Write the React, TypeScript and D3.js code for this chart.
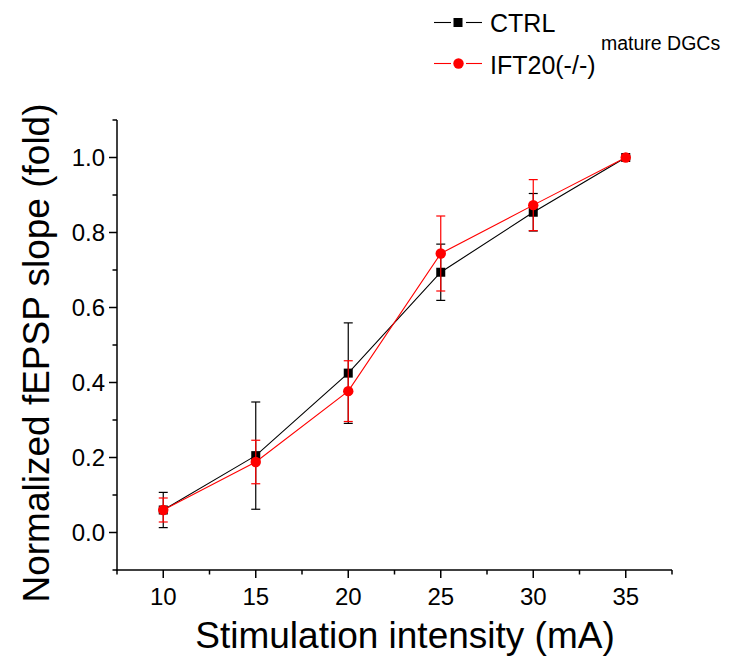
import React from "react";
import * as d3 from "d3";

const intensities = [10, 15, 20, 25, 30, 35];
const ctrlMean = [0.06, 0.205, 0.425, 0.694, 0.854, 1.0];
const ctrlErr = [0.047, 0.143, 0.134, 0.075, 0.05, 0];
const iftMean = [0.06, 0.188, 0.377, 0.744, 0.873, 1.0];
const iftErr = [0.032, 0.058, 0.081, 0.1, 0.068, 0];
const xTicks = [10, 15, 20, 25, 30, 35];
const xMinorTicks = [7.5, 12.5, 17.5, 22.5, 27.5, 32.5, 37.5];
const yTicks = [0.0, 0.2, 0.4, 0.6, 0.8, 1.0];
const yMinorTicks = [-0.1, 0.1, 0.3, 0.5, 0.7, 0.9, 1.1];

const FONT = "'Liberation Sans', Arial, sans-serif";

export default function App() {
  const x = d3.scaleLinear().domain([7.5, 37.5]).range([117, 672]);
  const y = d3.scaleLinear().domain([-0.1, 1.1]).range([570, 120]);

  const series = [
    { name: "CTRL", mean: ctrlMean, err: ctrlErr, color: "#000000", shape: "square" },
    { name: "IFT", mean: iftMean, err: iftErr, color: "#ff0000", shape: "circle" },
  ];

  const line = d3
    .line<[number, number]>()
    .x((d) => x(d[0]))
    .y((d) => y(d[1]));

  const marker = (shape: string, cx: number, cy: number, color: string, key: string) =>
    shape === "square" ? (
      <rect key={key} x={cx - 4.5} y={cy - 4.5} width={9} height={9} fill={color} />
    ) : (
      <circle key={key} cx={cx} cy={cy} r={5.2} fill={color} />
    );

  return (
    <svg
      width={730}
      height={660}
      style={{ position: "absolute", left: 0, top: 0, background: "#fff" }}
      fontFamily={FONT}
    >
      <rect x={0} y={0} width={730} height={660} fill="#fff" />
      {series.map((s) => (
        <g key={s.name}>
          <path
            d={line(intensities.map((v, i) => [v, s.mean[i]]) as [number, number][]) || ""}
            fill="none"
            stroke={s.color}
            strokeWidth={1.1}
          />
          {intensities.map((v, i) =>
            s.err[i] > 0 ? (
              <g key={i} stroke={s.color} strokeWidth={1.2}>
                <line x1={x(v)} x2={x(v)} y1={y(s.mean[i] + s.err[i])} y2={y(s.mean[i] - s.err[i])} />
                <line x1={x(v) - 4.5} x2={x(v) + 4.5} y1={y(s.mean[i] + s.err[i])} y2={y(s.mean[i] + s.err[i])} />
                <line x1={x(v) - 4.5} x2={x(v) + 4.5} y1={y(s.mean[i] - s.err[i])} y2={y(s.mean[i] - s.err[i])} />
              </g>
            ) : null
          )}
          {intensities.map((v, i) => marker(s.shape, x(v), y(s.mean[i]), s.color, "m" + i))}
        </g>
      ))}

      <g stroke="#000" strokeWidth={1.5}>
        <line x1={x(7.5)} x2={x(7.5)} y1={y(-0.1) + 0.75} y2={y(1.1)} />
        <line x1={x(7.5) - 0.75} x2={x(37.5)} y1={y(-0.1)} y2={y(-0.1)} />
        {yTicks.map((t) => (
          <line key={"yt" + t} x1={x(7.5) - 8} x2={x(7.5)} y1={y(t)} y2={y(t)} />
        ))}
        {yMinorTicks.map((t) => (
          <line key={"ym" + t} x1={x(7.5) - 4.5} x2={x(7.5)} y1={y(t)} y2={y(t)} />
        ))}
        {xTicks.map((t) => (
          <line key={"xt" + t} x1={x(t)} x2={x(t)} y1={y(-0.1)} y2={y(-0.1) + 8} />
        ))}
        {xMinorTicks.map((t) => (
          <line key={"xm" + t} x1={x(t)} x2={x(t)} y1={y(-0.1)} y2={y(-0.1) + 4.5} />
        ))}
      </g>
      <g fontSize={24} fill="#000">
        {yTicks.map((t) => (
          <text key={"yl" + t} x={x(7.5) - 12} y={y(t)} textAnchor="end" dominantBaseline="central">
            {d3.format(".1f")(t)}
          </text>
        ))}
        {xTicks.map((t) => (
          <text key={"xl" + t} x={x(t)} y={605} textAnchor="middle">
            {t}
          </text>
        ))}
      </g>
      <text x={405} y={648} fontSize={37} textAnchor="middle">
        Stimulation intensity (mA)
      </text>
      <text
        transform={`translate(49, ${(y(-0.1) + y(1.1)) / 2 + 8}) rotate(-90)`}
        fontSize={37}
        textAnchor="middle"
      >
        Normalized fEPSP slope (fold)
      </text>

      <g>
        <line x1={434} x2={451} y1={22.5} y2={22.5} stroke="#000" strokeWidth={1.1} />
        <line x1={466} x2={482} y1={22.5} y2={22.5} stroke="#000" strokeWidth={1.1} />
        <rect x={458 - 4.5} y={22.5 - 4.5} width={9} height={9} fill="#000" />
        <text x={490} y={22.5} fontSize={25} dominantBaseline="central">
          CTRL
        </text>
        <line x1={434} x2={451} y1={63.5} y2={63.5} stroke="#ff0000" strokeWidth={1.1} />
        <line x1={466} x2={482} y1={63.5} y2={63.5} stroke="#ff0000" strokeWidth={1.1} />
        <circle cx={458.5} cy={63.5} r={5.2} fill="#ff0000" />
        <text x={490} y={64.5} fontSize={25} dominantBaseline="central">
          IFT20(-/-)
        </text>
        <text x={601} y={43} fontSize={19.5} dominantBaseline="central">
          mature DGCs
        </text>
      </g>
    </svg>
  );
}
